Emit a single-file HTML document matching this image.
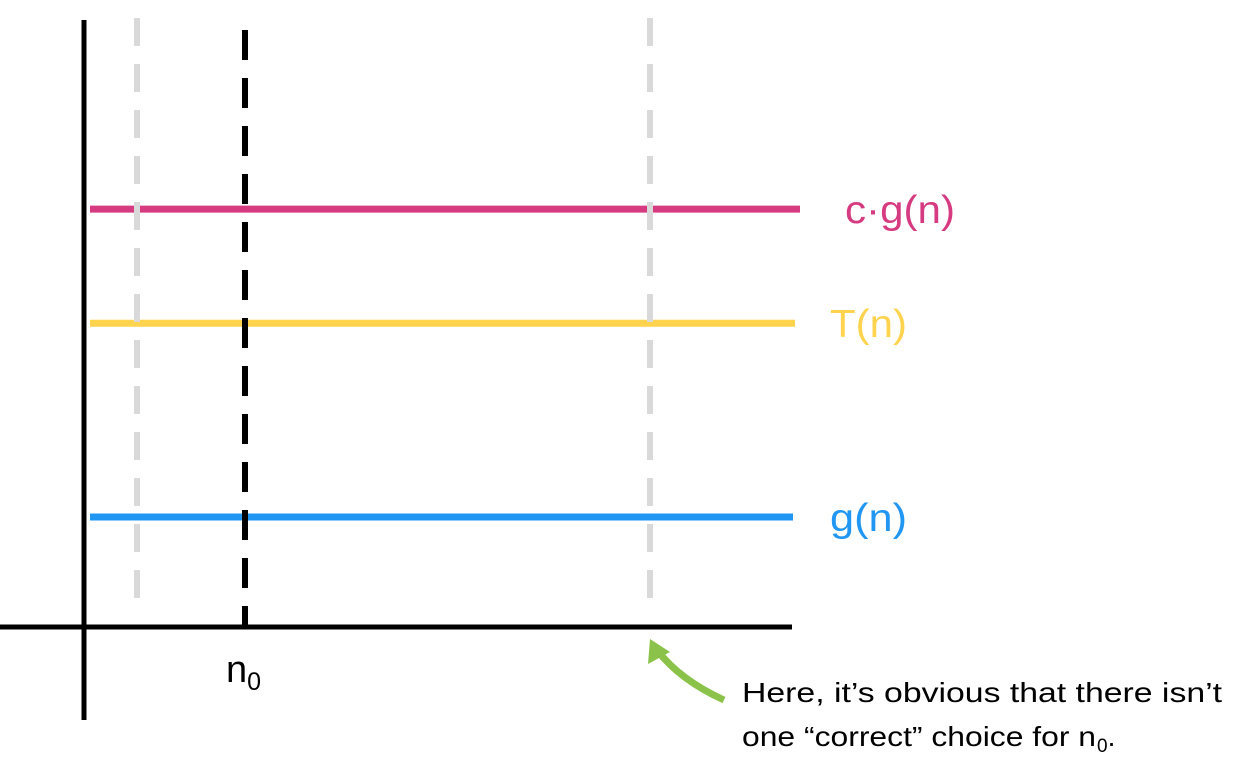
<!DOCTYPE html>
<html><head><meta charset="utf-8"><style>
html,body{margin:0;padding:0;background:#fff;}
svg{display:block;}
text{font-family:"Liberation Sans",sans-serif;}
</style></head><body>
<svg id="chart" width="1239" height="773" viewBox="0 0 1239 773">
  <line x1="0" y1="627" x2="792" y2="627" stroke="#000" stroke-width="5"/>
  <line x1="84" y1="20" x2="84" y2="720" stroke="#000" stroke-width="5"/>
  <g id="series"></g>
  <line x1="137" y1="18" x2="137" y2="612" stroke="#d9d9d9" stroke-width="6" stroke-dasharray="28,18"/>
  <line x1="650" y1="18" x2="650" y2="612" stroke="#d9d9d9" stroke-width="6" stroke-dasharray="28,18"/>
  <line x1="245" y1="30" x2="245" y2="626" stroke="#000" stroke-width="6" stroke-dasharray="30,18"/>
  <text x="226" y="682" font-size="38" fill="#000">n<tspan font-size="25" dy="8">0</tspan></text>
  <path d="M724,700 Q680,680 657,650" fill="none" stroke="#8bc34a" stroke-width="7"/>
  <polygon points="650,639 648,664 670,652" fill="#8bc34a"/>
  <text x="742" y="702" font-size="28" fill="#000" textLength="480" lengthAdjust="spacingAndGlyphs">Here, it’s obvious that there isn’t</text>
  <text x="742" y="746" font-size="28" fill="#000" textLength="354" lengthAdjust="spacingAndGlyphs">one “correct” choice for n</text>
  <text x="1097" y="752" font-size="19" fill="#000">0<tspan font-size="28" dy="-6">.</tspan></text>
</svg>
<script>
const seriesNames = ["c·g(n)", "T(n)", "g(n)"];
const seriesValues = [3.59, 2.61, 0.945];
const seriesColors = ["#d63a80", "#ffd34e", "#2196f3"];
const seriesEnds = [800, 795, 793];
const labelX = [845, 830, 830];
const labelW = [110, 77, 77];
function yScale(v){ return 627 - v * 116.4; }
const g = document.getElementById('series');
const ns = 'http://www.w3.org/2000/svg';
seriesValues.forEach((v, i) => {
  const y = yScale(v);
  const l = document.createElementNS(ns, 'line');
  
  
  l.setAttribute('x1', 90); l.setAttribute('x2', seriesEnds[i]);
  l.setAttribute('y1', y); l.setAttribute('y2', y);
  l.setAttribute('stroke', seriesColors[i]); l.setAttribute('stroke-width', 7);
  g.appendChild(l);
  const t = document.createElementNS(ns, 'text');
  
  
  t.setAttribute('x', labelX[i]); t.setAttribute('y', y + 14);
  t.setAttribute('font-size', 39); t.setAttribute('fill', seriesColors[i]);
  t.setAttribute('textLength', labelW[i]); t.setAttribute('lengthAdjust', 'spacingAndGlyphs');
  t.textContent = seriesNames[i];
  g.appendChild(t);
});
</script>
</body></html>
